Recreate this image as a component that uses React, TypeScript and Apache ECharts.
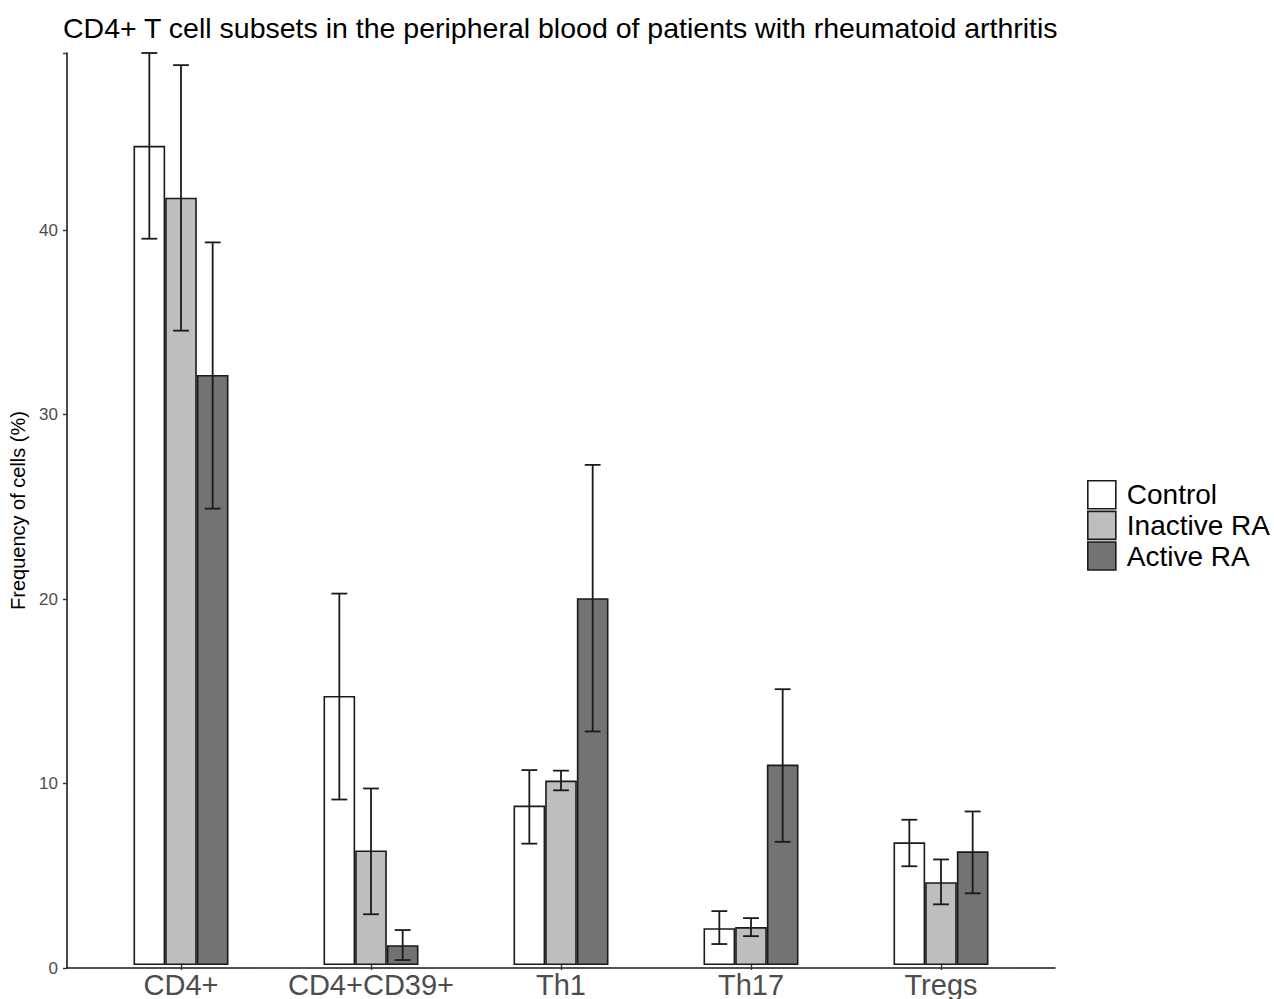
import React, { useEffect, useRef } from "react";
import * as echarts from "echarts";

const categories = ["CD4+", "CD4+CD39+", "Th1", "Th17", "Tregs"];
const groups = ["Control", "Inactive RA", "Active RA"];
const colors = ["#FFFFFF", "#BEBEBE", "#737373"];

const controlMean = [44.55, 14.63, 8.67, 2.0, 6.67];
const controlLow = [39.5, 9.0, 6.6, 1.14, 5.37];
const controlHigh = [49.6, 20.2, 10.6, 2.93, 7.9];

const inactiveMean = [41.73, 6.23, 10.03, 2.06, 4.5];
const inactiveLow = [34.5, 2.76, 9.5, 1.57, 3.3];
const inactiveHigh = [48.94, 9.6, 10.57, 2.55, 5.74];

const activeMean = [32.09, 1.08, 19.95, 10.9, 6.18];
const activeLow = [24.82, 0.27, 12.7, 6.7, 3.9];
const activeHigh = [39.3, 1.9, 27.2, 15.0, 8.35];

const yTicks = [0, 10, 20, 30, 40];
const yMax = 49.6;

const means = [controlMean, inactiveMean, activeMean];
const lows = [controlLow, inactiveLow, activeLow];
const highs = [controlHigh, inactiveHigh, activeHigh];

const FONT = "Liberation Sans, Arial, sans-serif";

export default function App() {
  const ref = useRef<HTMLDivElement>(null);
  useEffect(() => {
    if (!ref.current) return;
    const chart = echarts.init(ref.current, undefined, { renderer: "svg" });

    const barSeries = groups.map((g, k) => ({
      type: "bar",
      name: g,
      xAxisIndex: 1,
      yAxisIndex: 1,
      data: means[k],
      barWidth: "16.667%",
      barGap: "0%",
      itemStyle: { color: colors[k], borderColor: "#1a1a1a", borderWidth: 1.6 },
      emphasis: { disabled: true },
      z: 2,
    }));

    const errSeries = groups.map((g, k) => ({
      type: "custom",
      name: g + " err",
      xAxisIndex: 1,
      yAxisIndex: 1,
      z: 5,
      encode: { x: 0, y: [1, 2] },
      data: categories.map((_, i) => [i, lows[k][i], highs[k][i]]),
      renderItem: (params: any, api: any) => {
        const idx = api.value(0);
        const lo = api.coord([idx, api.value(1)]);
        const hi = api.coord([idx, api.value(2)]);
        const band = api.size([1, 0])[0];
        const x = lo[0] + ((k - 1) * band) / 6;
        const half = band / 24;
        const style = { stroke: "#1a1a1a", lineWidth: 1.8 };
        return {
          type: "group",
          children: [
            { type: "line", shape: { x1: x, y1: lo[1], x2: x, y2: hi[1] }, style },
            { type: "line", shape: { x1: x - half, y1: hi[1], x2: x + half, y2: hi[1] }, style },
            { type: "line", shape: { x1: x - half, y1: lo[1], x2: x + half, y2: lo[1] }, style },
          ],
        };
      },
    }));

    chart.setOption({
      animation: false,
      backgroundColor: "#ffffff",
      title: {
        text: "CD4+ T cell subsets in the peripheral blood of patients with rheumatoid arthritis",
        left: 58,
        top: 8,
        textStyle: {
          fontFamily: FONT,
          fontSize: 28.5,
          fontWeight: "normal",
          color: "#000000",
        },
      },
      legend: {
        orient: "vertical",
        left: 1087,
        top: 480,
        padding: 0,
        itemWidth: 28,
        itemHeight: 28,
        itemGap: 1,
        icon: "rect",
        data: groups,
        selectedMode: false,
        itemStyle: { borderColor: "#1a1a1a", borderWidth: 1.6 },
        textStyle: {
          fontFamily: FONT,
          fontSize: 28,
          lineHeight: 28,
          color: "#000000",
          padding: [0, 0, 0, 6],
        },
      },
      grid: [
        { left: 67, right: 219, top: 53, bottom: 31 },
        { left: 86, right: 238, top: 53, bottom: 31 },
      ],
      xAxis: [
        {
          type: "value",
          gridIndex: 0,
          min: 0,
          max: 1,
          axisLine: { show: true, lineStyle: { color: "#1a1a1a", width: 1.6 } },
          axisTick: { show: false },
          axisLabel: { show: false },
          splitLine: { show: false },
        },
        {
          type: "category",
          gridIndex: 1,
          data: categories,
          axisLine: { show: false },
          axisTick: { show: true, alignWithLabel: true, length: 5, lineStyle: { color: "#333333", width: 1.4 } },
          axisLabel: {
            interval: 0,
            margin: 5,
            fontFamily: FONT,
            fontSize: 29,
            color: "#4d4d4d",
          },
          splitLine: { show: false },
        },
      ],
      yAxis: [
        {
          type: "value",
          gridIndex: 0,
          min: 0,
          max: yMax,
          interval: 10,
          name: "Frequency of cells (%)",
          nameLocation: "middle",
          nameGap: 38,
          nameTextStyle: {
            fontFamily: FONT,
            fontSize: 20,
            color: "#000000",
          },
          axisLine: { show: true, lineStyle: { color: "#1a1a1a", width: 1.6 } },
          axisTick: { show: true, length: 4, lineStyle: { color: "#333333", width: 1.4 } },
          axisLabel: {
            margin: 9,
            fontFamily: FONT,
            fontSize: 17,
            color: "#4d4d4d",
            formatter: (v: number) => (yTicks.includes(v) ? String(v) : ""),
          },
          splitLine: { show: false },
        },
        {
          type: "value",
          gridIndex: 1,
          min: 0,
          max: yMax,
          interval: 10,
          show: false,
          splitLine: { show: false },
        },
      ],
      series: [...barSeries, ...errSeries],
    });
    return () => chart.dispose();
  }, []);

  return <div ref={ref} style={{ width: 1274, height: 999, position: "absolute", left: 0, top: 0 }} />;
}
